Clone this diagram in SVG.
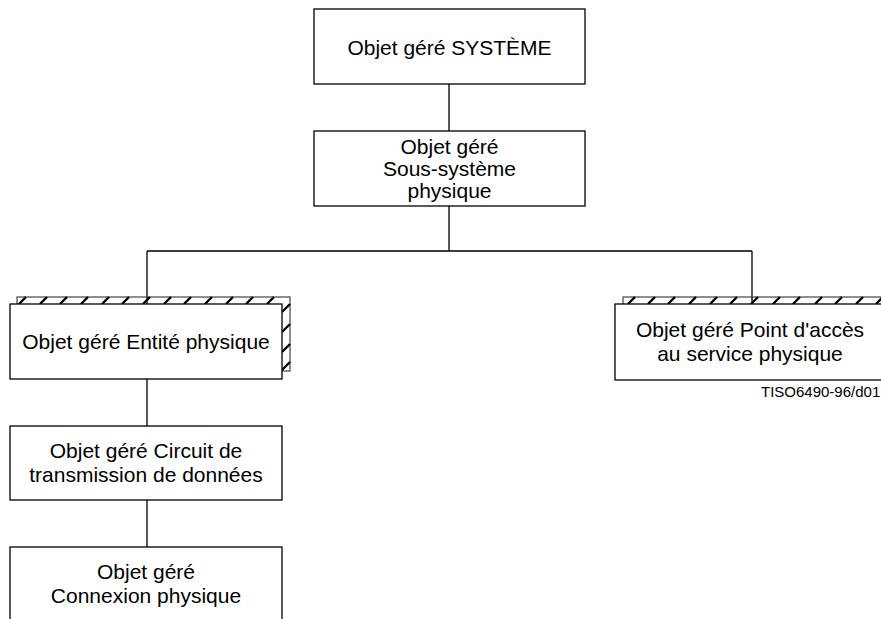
<svg xmlns="http://www.w3.org/2000/svg" width="881" height="619" viewBox="0 0 881 619">
<style>
.box{fill:#fff;stroke:#000;stroke-width:1.3}
.shadow{fill:#fff;stroke:#444;stroke-width:1.2}
.hatch{fill:none;stroke:#000;stroke-width:2.4}
.wire{fill:none;stroke:#000;stroke-width:1.3}
text{font-family:"Liberation Sans",Arial,sans-serif;font-size:21px;fill:#000;text-anchor:middle}
.ref{font-size:15px;text-anchor:start}
</style>
<rect width="881" height="619" fill="#fff"/>
<g id="connectors">
<path class="wire" d="M449,84V131M449,206V251M147,251H752M147,251V304M752,251V304M147,379V426M147,500V547"/>
</g>
<g id="systeme">
<rect class="box" x="314" y="9" width="271" height="75"/>
<text x="449.5" y="55">Objet géré SYSTÈME</text>
</g>
<g id="sous-systeme">
<rect class="box" x="314" y="131" width="271" height="75"/>
<text x="449.5" y="154">Objet géré</text>
<text x="449.5" y="176">Sous-système</text>
<text x="449.5" y="198">physique</text>
</g>
<g id="entite">
<rect class="shadow" x="17" y="297" width="273" height="74"/>
<path class="hatch" d="M19,304l7,-7M40,304l7,-7M60,304l7,-7M81,304l7,-7M102,304l7,-7M122,304l7,-7M143,304l7,-7M164,304l7,-7M184,304l7,-7M205,304l7,-7M226,304l7,-7M246,304l7,-7M267,304l7,-7M282,312l8,-8M282,332l8,-8M282,352l8,-8M282,370l8,-8"/>
<line x1="147" y1="297" x2="147" y2="304" stroke="#000" stroke-width="1.3"/>
<rect class="box" x="10" y="304" width="272" height="75"/>
<text x="146" y="349">Objet géré Entité physique</text>
</g>
<g id="point-acces">
<rect class="shadow" x="623" y="297" width="280" height="75"/>
<path class="hatch" d="M628,304l7,-7M648,304l7,-7M668,304l7,-7M689,304l7,-7M710,304l7,-7M730,304l7,-7M751,304l7,-7M773,304l7,-7M793,304l7,-7M815,304l7,-7M835,304l7,-7M856,304l7,-7M876,304l7,-7"/>
<line x1="752" y1="297" x2="752" y2="304" stroke="#000" stroke-width="1.3"/>
<rect class="box" x="615" y="304" width="290" height="76"/>
<text x="750" y="337">Objet géré Point d'accès</text>
<text x="750" y="361">au service physique</text>
</g>
<g id="circuit">
<rect class="box" x="10" y="426" width="272" height="74"/>
<text x="146" y="458">Objet géré Circuit de</text>
<text x="146" y="482">transmission de données</text>
</g>
<g id="connexion">
<rect class="box" x="10" y="547" width="272" height="80"/>
<text x="146" y="579">Objet géré</text>
<text x="146" y="603">Connexion physique</text>
</g>
<text class="ref" x="761" y="397">TISO6490-96/d01</text>
</svg>
